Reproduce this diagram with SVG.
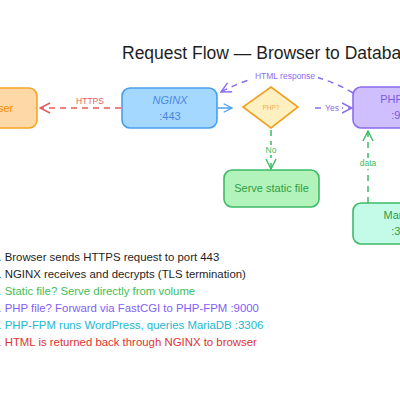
<svg xmlns="http://www.w3.org/2000/svg" width="400" height="400" viewBox="0 0 400 400">
<defs>
<style>
text{font-family:"Liberation Sans","DejaVu Sans",sans-serif}
.node{stroke-width:1.6}
.lbl{font-size:11px;text-anchor:middle}
.elbl{font-size:8.5px;text-anchor:middle}
.step{font-size:11.4px}
.dash{fill:none;stroke-width:1.5;stroke-dasharray:6 5}
</style>
<marker id="mRed" viewBox="0 0 12 12" refX="11" refY="6" markerWidth="12" markerHeight="12" markerUnits="userSpaceOnUse" orient="auto"><path d="M1,1 L11,6 L1,11" fill="none" stroke="#e8595b" stroke-width="1.4"/></marker>
<marker id="mBlue" viewBox="0 0 12 12" refX="11" refY="6" markerWidth="10" markerHeight="10" markerUnits="userSpaceOnUse" orient="auto"><path d="M1,1 L11,6 L1,11" fill="none" stroke="#4a9eed" stroke-width="1.4"/></marker>
<marker id="mPurple" viewBox="0 0 12 12" refX="11" refY="6" markerWidth="12" markerHeight="12" markerUnits="userSpaceOnUse" orient="auto"><path d="M1,1 L11,6 L1,11" fill="none" stroke="#8b6cf0" stroke-width="1.4"/></marker>
<marker id="mGreen" viewBox="0 0 12 12" refX="11" refY="6" markerWidth="12" markerHeight="12" markerUnits="userSpaceOnUse" orient="auto"><path d="M1,1 L11,6 L1,11" fill="none" stroke="#3dbb66" stroke-width="1.4"/></marker>
</defs>
<rect width="400" height="400" fill="#ffffff"/>
<text x="122" y="59" font-size="17.5" fill="#1e1e1e">Request Flow — Browser to Database</text>

<g id="connectors">
  <path class="dash" d="M121,108 L40,108" stroke="#e8595b" marker-end="url(#mRed)"/>
  <rect x="68" y="96" width="45" height="10" fill="#fff"/>
  <text class="elbl" x="90" y="104" fill="#e8595b">HTTPS</text>
  <path d="M218,108 L232,108" stroke="#4a9eed" stroke-width="1.5" fill="none" marker-end="url(#mBlue)"/>
  <path class="dash" d="M353,93 Q290,55 221,92" stroke="#8b6cf0" marker-end="url(#mPurple)"/>
  <rect x="252" y="70" width="66" height="11" fill="#fff"/>
  <text class="elbl" x="285" y="79" fill="#8b6cf0">HTML response</text>
  <path class="dash" d="M315,108 L352,108" stroke="#8b6cf0" marker-end="url(#mPurple)"/>
  <rect x="321" y="102" width="21" height="11" fill="#fff"/>
  <text class="elbl" x="332" y="111" fill="#8b6cf0">Yes</text>
  <path class="dash" d="M271,130 L271,169" stroke="#3dbb66" marker-end="url(#mGreen)"/>
  <rect x="263" y="145" width="16" height="10" fill="#fff"/>
  <text class="elbl" x="271" y="153" fill="#3dbb66">No</text>
  <path class="dash" d="M368,203 L368,131" stroke="#3dbb66" marker-end="url(#mGreen)"/>
  <rect x="356" y="158" width="24" height="11" fill="#fff"/>
  <text class="elbl" x="368" y="166" fill="#3dbb66">data</text>
</g>

<g id="browser">
  <rect class="node" x="-55" y="88" width="92" height="40" rx="8" fill="#ffd8a8" stroke="#f5a623"/>
  <text class="lbl" x="-7" y="112" font-size="12" fill="#f08c00">Browser</text>
</g>
<g id="nginx">
  <rect class="node" x="122" y="88" width="95" height="40" rx="8" fill="#a5d8ff" stroke="#4a9eed"/>
  <text class="lbl" x="170" y="104" font-style="italic" fill="#4a86e0">NGINX</text>
  <text class="lbl" x="170" y="120" fill="#4a86e0">:443</text>
</g>
<g id="decision">
  <polygon class="node" points="271,87 298,107 271,128 243,107" fill="#fff0c2" stroke="#f0a020"/>
  <text x="271" y="110" font-size="6.5" text-anchor="middle" fill="#f0b040">PHP?</text>
</g>
<g id="static">
  <rect class="node" x="224" y="170" width="95" height="37" rx="8" fill="#b2f2bb" stroke="#3dbb66"/>
  <text class="lbl" x="271.5" y="192" fill="#2f9e44">Serve static file</text>
</g>
<g id="phpfpm">
  <rect class="node" x="353" y="87" width="104" height="41" rx="8" fill="#d0bfff" stroke="#8b6cf0"/>
  <text class="lbl" x="405" y="103" fill="#7c5cdb">PHP-FPM</text>
  <text class="lbl" x="405" y="119" fill="#7c5cdb">:9000</text>
</g>
<g id="mariadb">
  <rect class="node" x="353" y="203" width="104" height="41" rx="8" fill="#c3fae8" stroke="#3dbb66"/>
  <text class="lbl" x="405" y="219" fill="#2f9e44">MariaDB</text>
  <text class="lbl" x="405" y="235" fill="#2f9e44">:3306</text>
</g>

<g id="steps">
  <text class="step" x="-8" y="261" fill="#1e1e1e">1. Browser sends HTTPS request to port 443</text>
  <text class="step" x="-8" y="278" fill="#1e1e1e">2. NGINX receives and decrypts (TLS termination)</text>
  <text class="step" x="-8" y="295" fill="#40c057">3. Static file? Serve directly from volume</text>
  <text class="step" x="-8" y="312" fill="#845ef7">4. PHP file? Forward via FastCGI to PHP-FPM :9000</text>
  <text class="step" x="-8" y="329" fill="#22b8cf">5. PHP-FPM runs WordPress, queries MariaDB :3306</text>
  <text class="step" x="-8" y="346" fill="#e03131">6. HTML is returned back through NGINX to browser</text>
</g>
</svg>
